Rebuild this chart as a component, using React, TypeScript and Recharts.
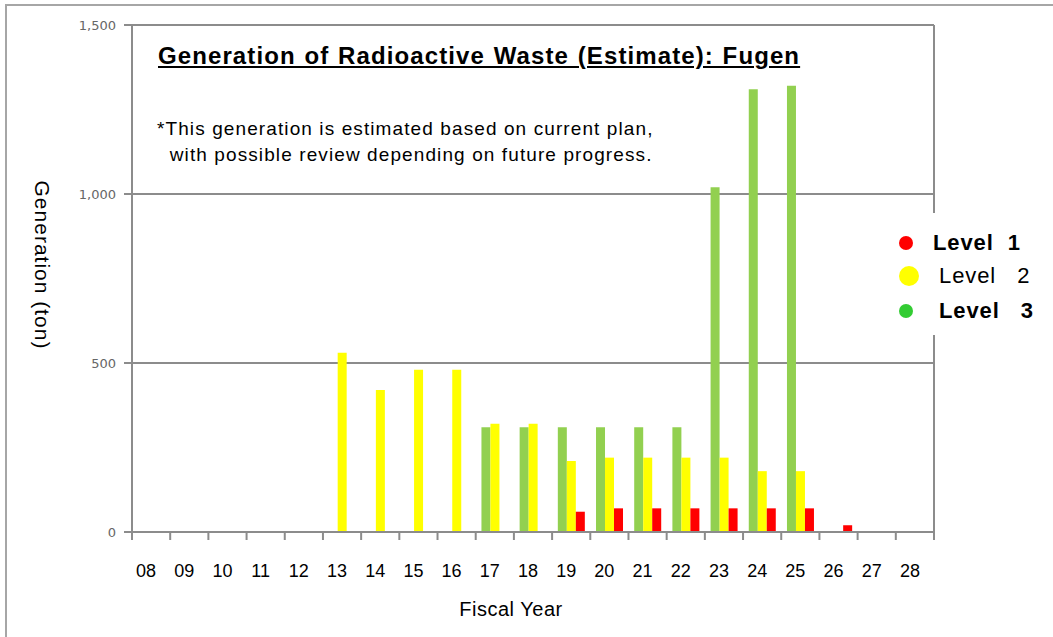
import { BarChart, Bar, XAxis, YAxis, CartesianGrid } from 'recharts';

const years = ['08', '09', '10', '11', '12', '13', '14', '15', '16', '17', '18', '19', '20', '21', '22', '23', '24', '25', '26', '27', '28'];
const level3 = [0, 0, 0, 0, 0, 0, 0, 0, 0, 310, 310, 310, 310, 310, 310, 1020, 1310, 1320, 0, 0, 0];
const level2 = [0, 0, 0, 0, 0, 530, 420, 480, 480, 320, 320, 210, 220, 220, 220, 220, 180, 180, 0, 0, 0];
const level1 = [0, 0, 0, 0, 0, 0, 0, 0, 0, 0, 0, 60, 70, 70, 70, 70, 70, 70, 20, 0, 0];
const yTicks = [0, 500, 1000, 1500];

const data = years.map((y, i) => ({ year: y, l3: level3[i], l2: level2[i], l1: level1[i] }));

const FONT = '"Liberation Sans", Arial, sans-serif';
const GRID = '#8c8c8c';
const BAND = (934 - 132) / years.length;

const YearTick = (props: any) => {
  const { x, y, payload, index } = props;
  const left = x - BAND / 2;
  return (
    <g>
      <line x1={left} y1={y - 8} x2={left} y2={y} stroke={GRID} strokeWidth={2} />
      {index === years.length - 1 && (
        <line x1={left + BAND} y1={y - 8} x2={left + BAND} y2={y} stroke={GRID} strokeWidth={2} />
      )}
      <text x={x - 5} y={y + 37} textAnchor="middle" fontSize={18} fill="#000" fontFamily={FONT}>
        {payload.value}
      </text>
    </g>
  );
};

// legend rows: marker centre and text placement
const legendItems = [
  { label: 'Level  1', color: '#ff0000', bold: true, r: 7, cx: 18, cy: 30, tx: 45 },
  { label: 'Level   2', color: '#ffff00', bold: false, r: 10, cx: 21, cy: 63, tx: 51 },
  { label: 'Level   3', color: '#33cc33', bold: true, r: 7, cx: 18, cy: 98, tx: 51 },
];

export default function App() {
  return (
    <div style={{ position: 'absolute', left: 0, top: 0, width: 1053, height: 637, background: '#fff', fontFamily: FONT, overflow: 'hidden' }}>
      <div style={{ position: 'absolute', left: 5, top: 4, width: 1100, height: 700, borderLeft: '2px solid #a6a6a6', borderTop: '2px solid #a6a6a6' }} />
      <BarChart
        width={1053}
        height={637}
        data={data}
        margin={{ top: 25, right: 119, bottom: 65, left: 0 }}
        barCategoryGap="15%"
        barGap={0}
      >
        <CartesianGrid
          stroke={GRID}
          strokeWidth={2}
          verticalCoordinatesGenerator={({ offset }: any) => [offset.left + offset.width]}
        />
        <XAxis
          dataKey="year"
          height={40}
          axisLine={{ stroke: GRID, strokeWidth: 2 }}
          tickLine={false}
          tick={<YearTick />}
          interval={0}
        />
        <YAxis
          width={132}
          domain={[0, 1500]}
          ticks={yTicks}
          tickFormatter={(v: number) => v.toLocaleString('en-US')}
          axisLine={{ stroke: GRID, strokeWidth: 2 }}
          tickLine={{ stroke: GRID, strokeWidth: 2 }}
          tickSize={8}
          tickMargin={8}
          tick={{ fontSize: 13, fill: '#666', fontFamily: '"DejaVu Sans", sans-serif' }}
        />
        <Bar dataKey="l3" fill="#92d050" isAnimationActive={false} />
        <Bar dataKey="l2" fill="#ffff00" isAnimationActive={false} />
        <Bar dataKey="l1" fill="#ff0000" isAnimationActive={false} />
      </BarChart>

      <div style={{ position: 'absolute', left: 158, top: 42, fontSize: 24, fontWeight: 'bold', textDecoration: 'underline', letterSpacing: 1.1, wordSpacing: 1, color: '#000', whiteSpace: 'nowrap' }}>
        Generation of Radioactive Waste (Estimate): Fugen
      </div>
      <div style={{ position: 'absolute', left: 157, top: 116, fontSize: 19, lineHeight: '26px', letterSpacing: 1.1, color: '#000', whiteSpace: 'pre' }}>
        {'*This generation is estimated based on current plan,\n  with possible review depending on future progress.'}
      </div>
      <div
        style={{
          position: 'absolute', left: 42, top: 265, fontSize: 21, letterSpacing: 1, color: '#000', whiteSpace: 'nowrap',
          transform: 'translate(-50%, -50%) rotate(90deg)',
        }}
      >
        Generation (ton)
      </div>
      <span style={{ position: 'absolute', left: 511, top: 598, transform: 'translateX(-50%)', fontSize: 20, letterSpacing: 0.5, whiteSpace: 'nowrap' }}>
        Fiscal Year
      </span>

      <div style={{ position: 'absolute', left: 888, top: 213, width: 160, height: 122, background: '#fff' }}>
        {legendItems.map((it, i) => (
          <div key={i}>
            <div
              style={{
                position: 'absolute', left: it.cx - it.r, top: it.cy - it.r, width: it.r * 2, height: it.r * 2,
                borderRadius: '50%', background: it.color,
              }}
            />
            <span
              style={{
                position: 'absolute', left: it.tx, top: it.cy - 13, lineHeight: '26px', fontSize: 22, letterSpacing: 0.9,
                fontWeight: it.bold ? 'bold' : 'normal', whiteSpace: 'pre',
              }}
            >
              {it.label}
            </span>
          </div>
        ))}
      </div>
    </div>
  );
}
